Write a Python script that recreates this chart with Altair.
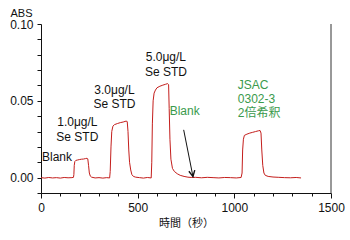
import altair as alt
import pandas as pd

# ---- signal trace (time in s, absorbance) ----
time_s = [0, 20, 40, 60, 80, 100, 120, 140, 160, 168,
          170, 172, 175, 180, 190, 200, 210, 220, 230, 238, 242, 246, 250, 255, 262,
          280, 300, 320, 340, 355,
          358, 362, 366, 372, 380, 395, 410, 425, 440, 446, 450, 454, 458, 464, 470, 478,
          490, 510, 530, 550, 570,
          573, 576, 580, 585, 592, 600, 615, 630, 645, 655, 660, 663, 667, 672, 680, 690,
          705, 720, 740, 760, 780, 800, 830, 860, 890, 920, 950, 980, 1010, 1035,
          1040, 1043, 1047, 1052, 1065, 1080, 1095, 1110, 1125, 1133, 1138, 1142, 1147,
          1153, 1160, 1175, 1200, 1230, 1260, 1290, 1320, 1345]
absorb = [0.0000, -0.0003, 0.0001, -0.0002, 0.0000, -0.0003, 0.0001, -0.0001, 0.0000, 0.0002,
          0.0020, 0.0080, 0.0105, 0.0112, 0.0115, 0.0118, 0.0120, 0.0121, 0.0124, 0.0126, 0.0122, 0.0080, 0.0030, 0.0010, 0.0003,
          -0.0002, 0.0000, -0.0003, 0.0000, -0.0002,
          0.0040, 0.0200, 0.0300, 0.0335, 0.0345, 0.0352, 0.0358, 0.0362, 0.0368, 0.0365, 0.0300, 0.0180, 0.0100, 0.0050, 0.0020, 0.0008,
          0.0003, 0.0000, -0.0003, 0.0001, -0.0002,
          0.0100, 0.0350, 0.0500, 0.0550, 0.0570, 0.0585, 0.0595, 0.0602, 0.0608, 0.0612, 0.0605, 0.0450, 0.0250, 0.0120, 0.0060, 0.0040,
          0.0025, 0.0015, 0.0008, 0.0003, 0.0001, 0.0002, -0.0001, 0.0002, 0.0000, -0.0002, 0.0001, 0.0000, -0.0002, 0.0001,
          0.0030, 0.0180, 0.0250, 0.0275, 0.0283, 0.0290, 0.0295, 0.0300, 0.0305, 0.0307, 0.0290, 0.0180, 0.0080,
          0.0030, 0.0015, 0.0008, 0.0004, 0.0002, 0.0000, -0.0001, 0.0001, -0.0002]

# ---- annotations ----
ann_text = ["5.0μg/L", "Se STD", "3.0μg/L", "Se STD", "1.0μg/L", "Se STD", "Blank"]
ann_t = [646, 646, 380, 380, 188, 188, 83]
ann_y = [0.0784, 0.0690, 0.0571, 0.0480, 0.0361, 0.0263, 0.0133]

green_text = ["Blank"]
green_t = [743]
green_y = [0.0436]

jsac_text = ["JSAC", "0302-3", "2倍希釈"]
jsac_t = [1018, 1018, 1018]
jsac_y = [0.0604, 0.0512, 0.0419]

arrow_t = [738, 786]
arrow_y = [0.0311, 0.0007]

x_ticks = [0, 100, 200, 300, 400, 500, 600, 700, 800, 900, 1000, 1100, 1200, 1300, 1400, 1500]
y_ticks = [-0.01, 0.0, 0.01, 0.02, 0.03, 0.04, 0.05, 0.06, 0.07, 0.08, 0.09, 0.10]

FONT = "Liberation Sans, Arial, Noto Sans CJK JP"
RED = "#c41e1c"
GREEN = "#3a9a4c"

trace = pd.DataFrame({"t": time_s, "a": absorb})
ann = pd.DataFrame({"t": ann_t, "a": ann_y, "txt": ann_text})
green = pd.DataFrame({"t": green_t, "a": green_y, "txt": green_text})
jsac = pd.DataFrame({"t": jsac_t, "a": jsac_y, "txt": jsac_text})
arrow = pd.DataFrame({"t": arrow_t, "a": arrow_y})
border = pd.DataFrame({"t": [1500]})

xscale = alt.Scale(domain=[0, 1500], nice=False, zero=False)
yscale = alt.Scale(domain=[-0.01, 0.10], nice=False, zero=False)

xaxis = alt.Axis(
    values=x_ticks,
    labelExpr="datum.value % 500 == 0 ? format(datum.value, 'd') : ''",
    title="時間（秒）",
    grid=False,
    tickSize={"condition": {"test": "datum.value % 500 == 0", "value": 5}, "value": 3},
    labelPadding=4,
    titlePadding=4,
    titleFontWeight="normal",
    titleFontSize=11,
    labelOverlap=False,
    labelFlush=False,
    labelBound=False,
)
yaxis = alt.Axis(
    values=y_ticks,
    labelExpr="datum.value >= 0 && round(datum.value * 100) % 5 == 0 ? format(datum.value, '.2f') : ''",
    title="ABS",
    titleAngle=0,
    titleAlign="left",
    titleBaseline="middle",
    titleX=-31,
    titleY=-11,
    titleFontWeight="normal",
    titleFontSize=11,
    grid=False,
    tickSize=4,
    labelPadding=4,
    labelOverlap=False,
    labelFlush=False,
    labelBound=False,
)


def X():
    return alt.X("t:Q", scale=xscale, axis=xaxis)


def Y():
    return alt.Y("a:Q", scale=yscale, axis=yaxis)


line = alt.Chart(trace).mark_line(color=RED, strokeWidth=1).encode(x=X(), y=Y())

right_border = alt.Chart(border).mark_rule(color="#333333", strokeWidth=1).encode(
    x=X(), y=alt.datum(0.10, scale=yscale, axis=yaxis), y2=alt.datum(-0.01)
)

labels = alt.Chart(ann).mark_text(font=FONT, fontSize=12, color="#111111", align="center", baseline="middle").encode(
    x=X(), y=Y(), text="txt:N"
)
green_lbl = alt.Chart(green).mark_text(font=FONT, fontSize=12, color=GREEN, align="center", baseline="middle").encode(
    x=X(), y=Y(), text="txt:N"
)
jsac_lbl = alt.Chart(jsac).mark_text(font=FONT, fontSize=12, color=GREEN, align="left", baseline="middle").encode(
    x=X(), y=Y(), text="txt:N"
)

arrow_line = alt.Chart(arrow).mark_line(color="#111111", strokeWidth=1).encode(x=X(), y=Y())
arrow_head = alt.Chart(arrow.tail(1)).mark_point(
    shape="M -0.5 -1 L 0 0 L 0.5 -1", filled=False, color="#111111",
    strokeWidth=1.4, size=144, angle=349, opacity=1,
).encode(x=X(), y=Y())

chart = alt.layer(line, right_border, labels, green_lbl, jsac_lbl, arrow_line, arrow_head).properties(
    width=290, height=169,
    autosize=alt.AutoSizeParams(type="none"),
    padding={"left": 41, "top": 24, "right": 19, "bottom": 47},
    background="white",
).configure_view(stroke=None).configure_axis(
    labelFont=FONT, titleFont=FONT, labelFontSize=12, labelColor="#111111", titleColor="#111111",
    domainColor="#111111", tickColor="#111111",
)

chart.save("out.html", embed_options={"renderer": "svg", "actions": False})
